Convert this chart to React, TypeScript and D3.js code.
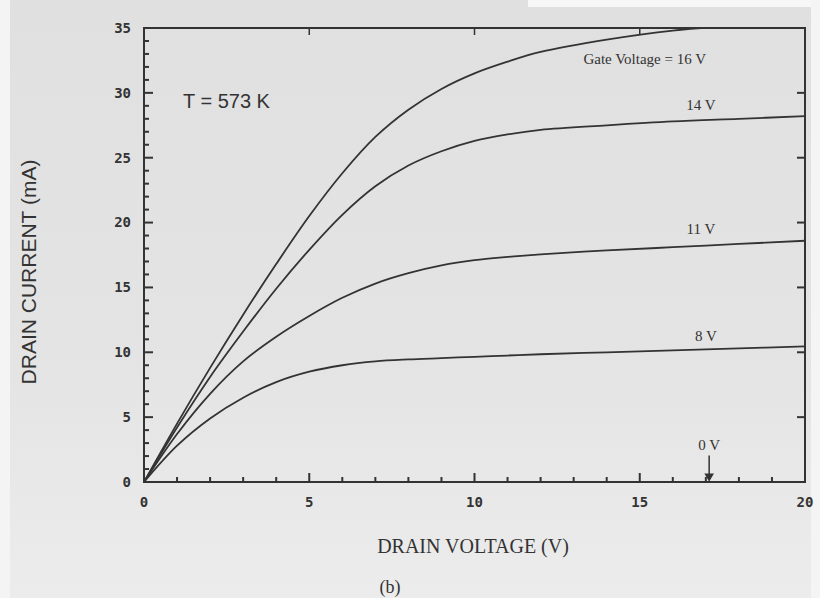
import React, { useEffect, useRef } from 'react';
import * as d3 from 'd3';

// drain voltage (V) sample points and drain current (mA) per gate voltage
const voltage = [0, 1, 2, 3, 4, 5, 6, 7, 8, 9, 10, 11, 12, 14, 16, 18, 20];
const gate8 = [0, 2.8, 4.9, 6.5, 7.7, 8.5, 9.0, 9.3, 9.45, 9.55, 9.65, 9.75, 9.85, 10.0, 10.15, 10.3, 10.45];
const gate11 = [0, 3.7, 6.8, 9.3, 11.2, 12.8, 14.2, 15.3, 16.1, 16.7, 17.1, 17.35, 17.55, 17.85, 18.1, 18.35, 18.6];
const gate14 = [0, 4.2, 8.1, 11.6, 14.9, 17.9, 20.6, 22.8, 24.4, 25.5, 26.3, 26.8, 27.15, 27.5, 27.8, 28.0, 28.2];
const gate16 = [0, 4.5, 8.8, 12.9, 16.8, 20.5, 23.8, 26.6, 28.7, 30.3, 31.5, 32.4, 33.15, 34.1, 34.8, 35.2, 35.5];

const series = [gate8, gate11, gate14, gate16];
const curveLabels = ['8 V', '11 V', '14 V', 'Gate Voltage = 16 V'];
const labelVolts = [17.0, 16.85, 16.85, 15.15];
const labelCurrents = [10.9, 19.1, 28.7, 32.2];

const xTicks = [0, 5, 10, 15, 20];
const yTicks = [0, 5, 10, 15, 20, 25, 30, 35];
const zeroGateVolt = 17.1;

export default function App() {
  const ref = useRef<SVGSVGElement>(null);

  useEffect(() => {
    const width = 820;
    const height = 598;
    const svg = d3.select(ref.current);
    svg.selectAll('*').remove();
    svg.attr('width', width).attr('height', height);

    const x = d3.scaleLinear().domain([0, 20]).range([144, 805]);
    const y = d3.scaleLinear().domain([0, 35]).range([482, 28]);
    const ink = '#333';

    // scanned paper background
    const defs = svg.append('defs');
    const grad = defs.append('linearGradient').attr('id', 'paper')
      .attr('x1', 0).attr('y1', 0).attr('x2', 0).attr('y2', 1);
    grad.append('stop').attr('offset', '0%').attr('stop-color', '#e0e0e0');
    grad.append('stop').attr('offset', '60%').attr('stop-color', '#e4e4e4');
    grad.append('stop').attr('offset', '100%').attr('stop-color', '#ececec');
    svg.append('rect').attr('width', width).attr('height', height).attr('fill', 'url(#paper)');
    svg.append('rect').attr('x', 0).attr('y', 0).attr('width', 10).attr('height', height).attr('fill', '#f4f4f4');
    svg.append('rect').attr('x', 528).attr('y', 0).attr('width', 292).attr('height', 7).attr('fill', '#f7f7f7');
    svg.append('rect').attr('x', 811).attr('y', 0).attr('width', 9).attr('height', height).attr('fill', '#f4f4f4');

    defs.append('clipPath').attr('id', 'plot')
      .append('rect')
      .attr('x', x(0)).attr('y', y(35))
      .attr('width', x(20) - x(0)).attr('height', y(0) - y(35));

    const g = svg.append('g');

    // ticks: minor every unit on left and bottom, major on all four sides
    const minorY = d3.range(0, 36, 1);
    g.selectAll('.ly').data(minorY).enter().append('line')
      .attr('x1', x(0)).attr('x2', d => x(0) + (d % 5 === 0 ? 9 : 5))
      .attr('y1', d => y(d)).attr('y2', d => y(d))
      .attr('stroke', ink).attr('stroke-width', 2);
    const minorX = d3.range(0, 21, 1);
    g.selectAll('.bx').data(minorX).enter().append('line')
      .attr('x1', d => x(d)).attr('x2', d => x(d))
      .attr('y1', y(0)).attr('y2', d => y(0) - (d % 5 === 0 ? 9 : 5))
      .attr('stroke', ink).attr('stroke-width', 2);
    g.selectAll('.ry').data(yTicks).enter().append('line')
      .attr('x1', x(20)).attr('x2', x(20) - 8)
      .attr('y1', d => y(d)).attr('y2', d => y(d))
      .attr('stroke', ink).attr('stroke-width', 2);
    g.selectAll('.tx').data(xTicks).enter().append('line')
      .attr('x1', d => x(d)).attr('x2', d => x(d))
      .attr('y1', y(35)).attr('y2', y(35) + 7)
      .attr('stroke', ink).attr('stroke-width', 1.5);

    g.append('rect')
      .attr('x', x(0)).attr('y', y(35))
      .attr('width', x(20) - x(0)).attr('height', y(0) - y(35))
      .attr('fill', 'none').attr('stroke', ink).attr('stroke-width', 2);

    // tick labels
    g.selectAll('.yl').data(yTicks).enter().append('text')
      .attr('x', 131).attr('y', d => y(d)).attr('dy', '0.35em')
      .attr('text-anchor', 'end')
      .style('font-family', 'DejaVu Sans Mono').style('font-weight', 'bold').style('font-size', '14px')
      .attr('fill', ink)
      .text(d => d);
    g.selectAll('.xl').data(xTicks).enter().append('text')
      .attr('x', d => x(d)).attr('y', 507)
      .attr('text-anchor', 'middle')
      .style('font-family', 'DejaVu Sans Mono').style('font-weight', 'bold').style('font-size', '14px')
      .attr('fill', ink)
      .text(d => d);

    // curves
    const line = d3.line<number>()
      .x((d, i) => x(voltage[i]))
      .y(d => y(d))
      .curve(d3.curveCatmullRom.alpha(0.5));
    g.append('g').attr('clip-path', 'url(#plot)')
      .selectAll('path').data(series).enter().append('path')
      .attr('d', d => line(d))
      .attr('fill', 'none').attr('stroke', ink).attr('stroke-width', 1.8);

    // curve labels
    g.selectAll('.cl').data(curveLabels).enter().append('text')
      .attr('x', (d, i) => x(labelVolts[i])).attr('y', (d, i) => y(labelCurrents[i]))
      .attr('text-anchor', 'middle')
      .style('font-family', 'Liberation Serif').style('font-size', '15px')
      .attr('fill', ink)
      .text(d => d);

    // 0 V marker
    g.append('text')
      .attr('x', x(zeroGateVolt)).attr('y', y(2.45))
      .attr('text-anchor', 'middle')
      .style('font-family', 'Liberation Serif').style('font-size', '15px')
      .attr('fill', ink)
      .text('0 V');
    g.append('line')
      .attr('x1', x(zeroGateVolt)).attr('x2', x(zeroGateVolt))
      .attr('y1', y(2.05)).attr('y2', y(0.6))
      .attr('stroke', ink).attr('stroke-width', 1.5);
    g.append('path')
      .attr('d', d3.symbol(d3.symbolTriangle, 40)())
      .attr('transform', `translate(${x(zeroGateVolt)},${y(0.45)}) rotate(180)`)
      .attr('fill', ink);

    // annotation and titles
    g.append('text')
      .attr('x', 183).attr('y', 108)
      .style('font-family', 'Liberation Sans').style('font-size', '20px')
      .attr('fill', ink)
      .text('T = 573 K');

    g.append('text')
      .attr('transform', `translate(36,${(y(0) + y(35)) / 2 + 17}) rotate(-90)`)
      .attr('text-anchor', 'middle')
      .style('font-family', 'Liberation Sans').style('font-size', '21px')
      .attr('fill', ink)
      .text('DRAIN CURRENT (mA)');

    g.append('text')
      .attr('x', 473).attr('y', 553)
      .attr('text-anchor', 'middle')
      .style('font-family', 'Liberation Serif').style('font-size', '20px')
      .attr('fill', ink)
      .text('DRAIN VOLTAGE (V)');

    g.append('text')
      .attr('x', 390).attr('y', 593)
      .attr('text-anchor', 'middle')
      .style('font-family', 'Liberation Serif').style('font-size', '18px')
      .attr('fill', ink)
      .text('(b)');
  });

  return (
    <div style={{ position: 'absolute', left: 0, top: 0 }}>
      <svg ref={ref}></svg>
    </div>
  );
}
